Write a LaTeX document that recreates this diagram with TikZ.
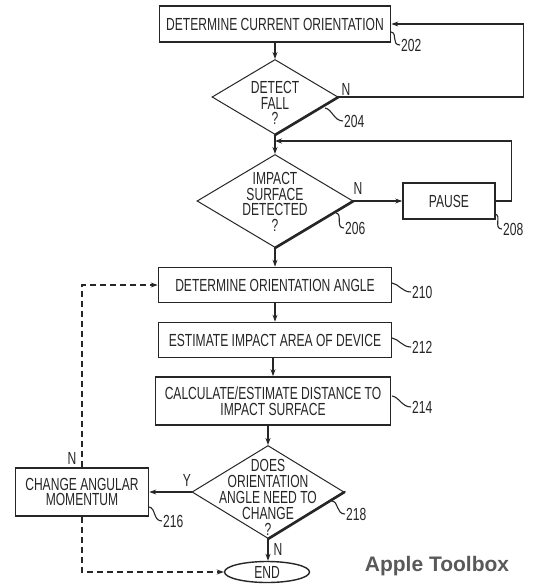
\documentclass[tikz,border=0pt]{standalone}
\usepackage{fontspec}
\setmainfont{Liberation Sans}[FakeStretch=0.69]
\newfontfamily\wmfont{Liberation Sans}
\usetikzlibrary{shapes.geometric,arrows.meta,calc}
\begin{document}
\begin{tikzpicture}[x=1pt,y=-1pt,
  txt/.style={font=\fontsize{17.5}{15.5}\selectfont, text=black!85, align=center, inner sep=0pt},
  box/.style={txt, draw=black!85, line width=1.7pt, rectangle},
  dia/.style={diamond, draw=black!85, line width=1pt, inner sep=0pt},
  thick edge/.style={draw=black!85, line width=2.6pt, line cap=round},
  arr/.style={draw=black!85, line width=1.1pt, -{Stealth[length=7pt,width=5pt]}},
  darr/.style={arr, dash pattern=on 6pt off 4pt, line width=1.3pt},
  lbl/.style={txt, anchor=west},
  lead/.style={draw=black!85, line width=1.1pt}]
\fill[white] (0,0) rectangle (540,588);
\useasboundingbox (0,0) rectangle (540,588);

% nodes
\node[box, minimum width=231pt, minimum height=36pt] (b202) at (275,24) {DETERMINE CURRENT ORIENTATION};
\node[dia, minimum width=126pt, minimum height=75pt] (d204) at (275,97) {};
\node[txt] (t204) at (275,103) {DETECT\\FALL\\?};
\node[dia, minimum width=156pt, minimum height=93pt] (d206) at (275,201) {};
\node[txt] (t206) at (275,202) {IMPACT\\SURFACE\\DETECTED\\?};
\node[box, minimum width=92pt, minimum height=36pt] (p208) at (449,201) {PAUSE};
\node[box, minimum width=233pt, minimum height=35pt] (b210) at (275,285) {DETERMINE ORIENTATION ANGLE};
\node[box, minimum width=233pt, minimum height=35pt] (b212) at (275,340) {ESTIMATE IMPACT AREA OF DEVICE};
\node[box, minimum width=235pt, minimum height=48pt] (b214) at (273,401) {CALCULATE/ESTIMATE DISTANCE TO\\IMPACT SURFACE};
\node[dia, minimum width=152pt, minimum height=93pt] (d218) at (268,492) {};
\node[txt, font=\fontsize{17.5}{16}\selectfont] (t218) at (268,497) {DOES\\ORIENTATION\\ANGLE NEED TO\\CHANGE\\?};
\node[box, minimum width=133pt, minimum height=48pt] (b216) at (82,492) {CHANGE ANGULAR\\MOMENTUM};
\node[txt, ellipse, draw=black!85, line width=1.4pt, minimum width=85pt, minimum height=21pt] (e) at (267,572) {END};

% thick lower-right edges of the diamonds
\draw[thick edge] (d204.east) -- (d204.south);
\draw[thick edge] (d206.east) -- (d206.south);
\draw[thick edge] (d218.east) -- (d218.south);

% connectors
\coordinate (j) at (275,141);
\draw[arr] (b202) -- (d204);
\draw[arr] (d204.east) -- ++(185,0) |- (b202.east);
\draw[arr] (d204) -- (d206);
\draw[arr] (d206) -- (p208);
\draw[arr] (p208.east) -- ++(16,0) |- (j);
\draw[arr] (d206) -- (b210);
\draw[arr] (b210) -- (b212);
\draw[arr] (b212.south -| b214.north) -- (b214.north);
\draw[arr] (b214.south -| d218.north) -- (d218.north);
\draw[arr] (d218.west) -- (b216.east);
\draw[arr] (d218.south) -- (d218.south |- e.north);
\draw[darr] (b216.north) |- (b210.west);
\draw[darr] (b216.south) |- (e.west);

% branch labels
\node[txt] (n204) at (346,89) {N};
\node[txt] (n206) at (358,188) {N};
\node[txt] (y218) at (187,480) {Y};
\node[txt] (n218) at (278,549) {N};
\node[txt] (n216) at (72,458) {N};

% reference numerals with leaders
\node[lbl] (l202) at (401,45) {202};
\node[lbl] (l204) at (344,121) {204};
\node[lbl] (l206) at (345,228) {206};
\node[lbl] (l208) at (503,229) {208};
\node[lbl] (l210) at (412,292) {210};
\node[lbl] (l212) at (412,347) {212};
\node[lbl] (l214) at (412,407) {214};
\node[lbl] (l216) at (163,521) {216};
\node[lbl] (l218) at (346,514) {218};
\coordinate (s202) at (391,32);
\coordinate (s204) at (325,108);
\coordinate (s206) at (336,213);
\coordinate (s208) at (495,214);
\coordinate (s210) at (392,283);
\coordinate (s212) at (392,338);
\coordinate (s214) at (392,396);
\coordinate (s216) at (149,507);
\coordinate (s218) at (332,501);
\foreach \n in {202,204,206,208,210,212,214,216,218}
  \draw[lead] (s\n) .. controls +(7,1) and +(-9,0) .. ([xshift=-1pt]l\n.west);

% watermark
\node[font=\wmfont\bfseries\fontsize{21}{21}\selectfont, text=black!65, inner sep=0pt] (wm) at (437,566) {Apple Toolbox};
\end{tikzpicture}
\end{document}
